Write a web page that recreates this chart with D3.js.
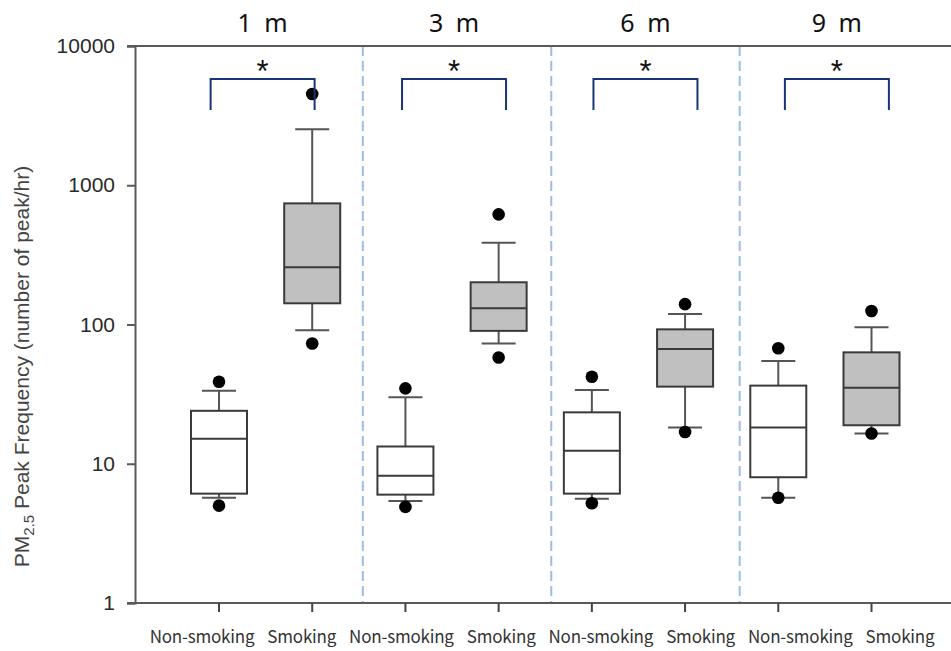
<!DOCTYPE html>
<html>
<head>
<meta charset="utf-8">
<script src="https://cdn.jsdelivr.net/npm/d3@7"></script>
<style>
	body { margin: 0; background: #fff; }
	svg { display: block; }
</style>
</head>
<body>
<svg id="chart"></svg>
<script>
// distances and groups, left-to-right
var distances = ["1 m", "3 m", "6 m", "9 m"];
var groups = ["Non-smoking", "Smoking"];

// box stats per distance (peaks/hr)
var nonSmokingStats = [
	{ lo: 5.7, q1: 6.1, med: 15.1, q3: 24.0, hi: 33.5 },
	{ lo: 5.4, q1: 6.0, med: 8.2,  q3: 13.3, hi: 30.0 },
	{ lo: 5.6, q1: 6.1, med: 12.4, q3: 23.4, hi: 33.9 },
	{ lo: 5.7, q1: 8.0, med: 18.2, q3: 36.4, hi: 54.7 }
];
var smokingStats = [
	{ lo: 91, q1: 142, med: 258, q3: 741, hi: 2520 },
	{ lo: 73, q1: 90,  med: 131, q3: 201, hi: 387 },
	{ lo: 18.2, q1: 35.8, med: 66.7, q3: 92.3, hi: 119 },
	{ lo: 16.5, q1: 18.9, med: 35.2, q3: 63.1, hi: 95.5 }
];
// outliers (5th / 95th percentile points)
var nonSmokingOutliers = [[5.0, 38.8], [4.9, 34.8], [5.2, 42.2], [5.7, 67.5]];
var smokingOutliers = [[73, 4520], [58, 618], [16.9, 140], [16.5, 125]];

var yTicks = [1, 10, 100, 1000, 10000];
var yLabel = "PM";

var width = 951, height = 651;
var margin = { top: 46, right: -6, bottom: 48, left: 135 };

var svg = d3.select("#chart")
	.attr("width", width)
	.attr("height", height);

// one entry per box
var boxes = [];
distances.forEach(function(d, i) {
	boxes.push({ key: d + "|" + groups[0], dist: i, smoking: false, s: nonSmokingStats[i], out: nonSmokingOutliers[i] });
	boxes.push({ key: d + "|" + groups[1], dist: i, smoking: true,  s: smokingStats[i],    out: smokingOutliers[i] });
});

var xScale = d3.scalePoint()
	.domain(boxes.map(function(b) { return b.key; }))
	.range([219, 871.5]);
// the category labels in the original sit on their own, slightly wider spacing
var labelScale = d3.scalePoint()
	.domain(boxes.map(function(b) { return b.key; }))
	.range([202, 900]);
var yScale = d3.scaleLog()
	.domain([1, 10000])
	.range([height - margin.bottom, margin.top]);

var boxW = 56, capW = 34;
var x0 = margin.left, x1 = width - margin.right;
var yTop = yScale(10000), yBot = yScale(1);

// dashed separators between distances
var step = xScale.step();
var separators = distances.slice(1).map(function(d, i) {
	return xScale(d + "|" + groups[0]) - step / 2 + 4 + i * 2;
});
svg.append("g").selectAll("line")
	.data(separators)
	.enter().append("line")
	.attr("x1", function(d) { return d; })
	.attr("x2", function(d) { return d; })
	.attr("y1", yTop)
	.attr("y2", yBot)
	.attr("stroke", "#9dbde6")
	.attr("stroke-width", 2)
	.attr("stroke-dasharray", "10,5");

// frame
svg.append("line")
	.attr("x1", x0 - 8).attr("x2", x1)
	.attr("y1", yTop).attr("y2", yTop)
	.attr("stroke", "#5a5a5a").attr("stroke-width", 2);

// y axis
var yAxis = svg.append("g")
	.attr("transform", "translate(" + x0 + ",0)")
	.call(d3.axisLeft(yScale).tickValues(yTicks).tickFormat(d3.format("d")).tickSize(8).tickPadding(12));
yAxis.select(".domain").attr("stroke", "#5a5a5a").attr("stroke-width", 2);
yAxis.selectAll(".tick line").attr("stroke", "#5a5a5a").attr("stroke-width", 2);
yAxis.selectAll(".tick text")
	.attr("fill", "#2a2a2a")
	.style("font-family", "'Liberation Sans', Arial, sans-serif")
	.style("font-size", "21px");

// x axis
var xAxis = svg.append("g")
	.attr("transform", "translate(0," + yBot + ")");
xAxis.append("line")
	.attr("x1", x0 - 8).attr("x2", x1)
	.attr("stroke", "#5a5a5a").attr("stroke-width", 2);
xAxis.selectAll(".xtick")
	.data(boxes)
	.enter().append("line")
	.attr("class", "xtick")
	.attr("x1", function(d) { return xScale(d.key); })
	.attr("x2", function(d) { return xScale(d.key); })
	.attr("y1", 0).attr("y2", 9)
	.attr("stroke", "#444").attr("stroke-width", 2);
xAxis.selectAll(".xlabel")
	.data(boxes)
	.enter().append("text")
	.attr("class", "xlabel")
	.attr("x", function(d) { return labelScale(d.key); })
	.attr("y", 40)
	.attr("text-anchor", "middle")
	.attr("fill", "#333")
	.style("font-family", "'Noto Sans CJK KR', 'Noto Sans', sans-serif")
	.style("font-size", "17px")
	.style("letter-spacing", "-0.2px")
	.text(function(d) { return d.key.split("|")[1]; });

// y label
var yl = svg.append("text")
	.attr("transform", "translate(29," + ((yTop + yBot) / 2 + 42) + ") rotate(-90)")
	.attr("text-anchor", "middle")
	.attr("fill", "#444")
	.style("font-family", "'Liberation Sans', Arial, sans-serif")
	.style("font-size", "21px");
yl.append("tspan").text(yLabel);
yl.append("tspan").attr("dy", 5).style("font-size", "15px").text("2.5");
yl.append("tspan").attr("dy", -5).text(" Peak Frequency (number of peak/hr)");

// boxes
var g = svg.append("g").selectAll(".box")
	.data(boxes)
	.enter().append("g")
	.attr("class", "box")
	.attr("transform", function(d) { return "translate(" + xScale(d.key) + ",0)"; });

g.append("line")
	.attr("y1", function(d) { return yScale(d.s.hi); })
	.attr("y2", function(d) { return yScale(d.s.lo); })
	.attr("stroke", "#555").attr("stroke-width", 2);
g.selectAll(".cap")
	.data(function(d) { return [d.s.lo, d.s.hi]; })
	.enter().append("line")
	.attr("x1", -capW / 2).attr("x2", capW / 2)
	.attr("y1", function(v) { return yScale(v); })
	.attr("y2", function(v) { return yScale(v); })
	.attr("stroke", "#555").attr("stroke-width", 2);
g.append("rect")
	.attr("x", -boxW / 2)
	.attr("width", boxW)
	.attr("y", function(d) { return yScale(d.s.q3); })
	.attr("height", function(d) { return yScale(d.s.q1) - yScale(d.s.q3); })
	.attr("fill", function(d) { return d.smoking ? "#c0c0c0" : "#fff"; })
	.attr("stroke", "#3a3a3a").attr("stroke-width", 2);
g.append("line")
	.attr("x1", -boxW / 2).attr("x2", boxW / 2)
	.attr("y1", function(d) { return yScale(d.s.med); })
	.attr("y2", function(d) { return yScale(d.s.med); })
	.attr("stroke", "#3a3a3a").attr("stroke-width", 2);
g.selectAll(".out")
	.data(function(d) { return d.out; })
	.enter().append("circle")
	.attr("cy", function(v) { return yScale(v); })
	.attr("r", 6.3)
	.attr("fill", "#000");

// distance titles and significance brackets
var centers = distances.map(function(d, i) {
	return (xScale(d + "|" + groups[0]) + xScale(d + "|" + groups[1])) / 2 + i * 5 - 3;
});
svg.append("g").selectAll("text")
	.data(distances)
	.enter().append("text")
	.attr("x", function(d, i) { return centers[i]; })
	.attr("y", 32)
	.attr("text-anchor", "middle")
	.attr("fill", "#111")
	.style("font-family", "'Noto Sans', 'Noto Sans CJK KR', sans-serif")
	.style("font-size", "25px")
	.style("word-spacing", "6px")
	.text(function(d) { return d; });

var br = svg.append("g").selectAll("g")
	.data(distances)
	.enter().append("g")
	.attr("transform", function(d, i) { return "translate(" + centers[i] + ",0)"; });
br.append("path")
	.attr("d", "M-52,110V79H52V110")
	.attr("fill", "none")
	.attr("stroke", "#1a3575")
	.attr("stroke-width", 2);
br.append("text")
	.attr("y", 82)
	.attr("text-anchor", "middle")
	.attr("fill", "#111")
	.style("font-family", "'Liberation Sans', Arial, sans-serif")
	.style("font-size", "31px")
	.text("*");
</script>
</body>
</html>
